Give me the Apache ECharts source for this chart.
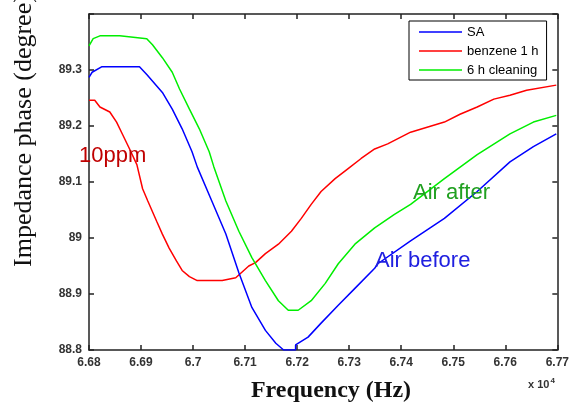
<!DOCTYPE html>
<html>
<head>
<meta charset="utf-8">
<script src="https://cdn.jsdelivr.net/npm/echarts@6/dist/echarts.min.js"></script>
<style>
  html, body { margin: 0; padding: 0; background: #fff; }
  #chart { width: 572px; height: 405px; }
</style>
</head>
<body>
<div id="chart"></div>
<script>
// Frequency in units of 10^4 Hz, impedance phase in degrees
const seriesNames = ['SA', 'benzene 1 h', '6 h cleaning'];

const saFreq = [6.6800, 6.6806, 6.6825, 6.6897, 6.6911, 6.6941, 6.6960, 6.6979, 6.6998, 6.7008,
  6.7036, 6.7063, 6.7088, 6.7113, 6.7139, 6.7159, 6.7174, 6.7197, 6.7197, 6.7221, 6.7246, 6.7279,
  6.7311, 6.7349, 6.7355, 6.7418, 6.7483, 6.7546, 6.7609, 6.7654, 6.7698];
const saPhase = [89.287, 89.296, 89.306, 89.306, 89.292, 89.260, 89.230, 89.195, 89.154, 89.127,
  89.066, 89.007, 88.938, 88.876, 88.835, 88.812, 88.800, 88.800, 88.809, 88.823, 88.848, 88.880,
  88.910, 88.946, 88.954, 88.995, 89.035, 89.083, 89.136, 89.163, 89.186];

const benzeneFreq = [6.6800, 6.6811, 6.6821, 6.6840, 6.6853, 6.6865, 6.6878, 6.6892, 6.6903, 6.6913,
  6.6930, 6.6941, 6.6954, 6.6968, 6.6979, 6.6993, 6.7008, 6.7056, 6.7082, 6.7107, 6.7120, 6.7139,
  6.7164, 6.7189, 6.7208, 6.7227, 6.7246, 6.7273, 6.7298, 6.7323, 6.7349, 6.7374, 6.7418, 6.7483,
  6.7513, 6.7546, 6.7578, 6.7609, 6.7641, 6.7698];
const benzenePhase = [89.246, 89.246, 89.234, 89.225, 89.207, 89.184, 89.159, 89.131, 89.088, 89.066,
  89.030, 89.007, 88.982, 88.959, 88.942, 88.931, 88.924, 88.924, 88.929, 88.950, 88.956, 88.972,
  88.989, 89.012, 89.035, 89.060, 89.083, 89.106, 89.124, 89.142, 89.159, 89.168, 89.189, 89.207,
  89.221, 89.234, 89.248, 89.255, 89.264, 89.273];

const cleaningFreq = [6.6800, 6.6808, 6.6821, 6.6859, 6.6911, 6.6922, 6.6941, 6.6960, 6.6974, 6.6993,
  6.7012, 6.7031, 6.7040, 6.7063, 6.7088, 6.7113, 6.7139, 6.7164, 6.7183, 6.7202, 6.7227, 6.7254,
  6.7279, 6.7311, 6.7349, 6.7387, 6.7418, 6.7483, 6.7546, 6.7609, 6.7654, 6.7698];
const cleaningPhase = [89.343, 89.356, 89.361, 89.361, 89.356, 89.345, 89.322, 89.296, 89.266, 89.230,
  89.195, 89.154, 89.127, 89.066, 89.012, 88.965, 88.924, 88.888, 88.871, 88.871, 88.888, 88.919,
  88.954, 88.989, 89.018, 89.042, 89.060, 89.106, 89.149, 89.186, 89.207, 89.219];

const xTickLabels = ['6.68', '6.69', '6.7', '6.71', '6.72', '6.73', '6.74', '6.75', '6.76', '6.77'];
const yTickLabels = ['88.8', '88.9', '89', '89.1', '89.2', '89.3'];

const pair = (xs, ys) => xs.map((x, i) => [x, ys[i]]);

const chart = echarts.init(document.getElementById('chart'));

const tickFont = { fontFamily: 'Arial, "Liberation Sans", sans-serif', fontSize: 12, fontWeight: 'bold', color: '#333' };
const axisLineStyle = { color: '#222', width: 1.5 };

const xLabel = v => {
  const s = String(+v.toFixed(2));
  return xTickLabels.includes(s) ? s : '';
};
const yLabel = v => {
  const s = String(+v.toFixed(1));
  return yTickLabels.includes(s) ? s : '';
};

chart.setOption({
  animation: false,
  backgroundColor: '#fff',
  grid: { left: 89, right: 11, top: 14, bottom: 55, containLabel: false },
  xAxis: [
    {
      type: 'value', min: 6.68, max: 6.77, interval: 0.01, position: 'bottom',
      axisLine: { show: true, lineStyle: axisLineStyle },
      axisTick: { show: true, inside: true, length: 5, lineStyle: axisLineStyle },
      axisLabel: Object.assign({ margin: 7, formatter: xLabel }, tickFont),
      splitLine: { show: false }
    },
    {
      type: 'value', min: 6.68, max: 6.77, interval: 0.01, position: 'top',
      axisLine: { show: true, onZero: false, lineStyle: axisLineStyle },
      axisTick: { show: true, inside: true, length: 5, lineStyle: axisLineStyle },
      axisLabel: { show: false },
      splitLine: { show: false }
    }
  ],
  yAxis: [
    {
      type: 'value', min: 88.8, max: 89.4, interval: 0.1, position: 'left',
      axisLine: { show: true, lineStyle: axisLineStyle },
      axisTick: { show: true, inside: true, length: 5, lineStyle: axisLineStyle },
      axisLabel: Object.assign({ margin: 7, formatter: yLabel }, tickFont),
      splitLine: { show: false }
    },
    {
      type: 'value', min: 88.8, max: 89.4, interval: 0.1, position: 'right',
      axisLine: { show: true, onZero: false, lineStyle: axisLineStyle },
      axisTick: { show: true, inside: true, length: 5, lineStyle: axisLineStyle },
      axisLabel: { show: false },
      splitLine: { show: false }
    }
  ],
  legend: {
    data: seriesNames,
    orient: 'vertical',
    left: 409, top: 21,
    backgroundColor: '#fff',
    borderColor: '#000', borderWidth: 1, borderRadius: 0,
    padding: [4, 8, 3, 10],
    icon: 'rect',
    itemGap: 5, itemWidth: 43, itemHeight: 1.5,
    textStyle: { fontFamily: 'Arial, "Liberation Sans", sans-serif', fontSize: 13, lineHeight: 14, color: '#000' }
  },
  series: [
    {
      name: seriesNames[0], type: 'line', xAxisIndex: 0, yAxisIndex: 0,
      data: pair(saFreq, saPhase), symbol: 'none',
      lineStyle: { color: '#0000ff', width: 1.5 }, itemStyle: { color: '#0000ff' }, z: 3
    },
    {
      name: seriesNames[1], type: 'line', xAxisIndex: 0, yAxisIndex: 0,
      data: pair(benzeneFreq, benzenePhase), symbol: 'none',
      lineStyle: { color: '#ff0000', width: 1.5 }, itemStyle: { color: '#ff0000' }, z: 2
    },
    {
      name: seriesNames[2], type: 'line', xAxisIndex: 0, yAxisIndex: 0,
      data: pair(cleaningFreq, cleaningPhase), symbol: 'none',
      lineStyle: { color: '#00ee00', width: 1.5 }, itemStyle: { color: '#00ee00' }, z: 2
    }
  ],
  graphic: [
    {
      type: 'text', x: 24, y: 267, rotation: Math.PI / 2,
      style: {
        text: 'Impedance phase (degree)',
        font: 'normal 26px "Liberation Serif", "Times New Roman", serif',
        fill: '#111', textAlign: 'left', textVerticalAlign: 'middle'
      }
    },
    {
      type: 'text', x: 331, y: 391,
      style: {
        text: 'Frequency (Hz)',
        font: 'bold 24px "Liberation Serif", "Times New Roman", serif',
        fill: '#111', textAlign: 'center', textVerticalAlign: 'middle'
      }
    },
    {
      type: 'text', x: 528, y: 385,
      style: {
        text: '{b|x 10}{s|4}',
        rich: {
          b: { font: 'bold 11px Arial, "Liberation Sans", sans-serif', fill: '#333' },
          s: { font: 'bold 8px Arial, "Liberation Sans", sans-serif', fill: '#333', padding: [0, 0, 8, 1] }
        },
        textVerticalAlign: 'middle'
      }
    },
    {
      type: 'text', x: 79, y: 156, z: 100,
      style: {
        text: '10ppm',
        font: '22px Arial, "Liberation Sans", sans-serif',
        fill: '#c00000', textVerticalAlign: 'middle'
      }
    },
    {
      type: 'text', x: 413, y: 193, z: 100,
      style: {
        text: 'Air after',
        font: '22px Arial, "Liberation Sans", sans-serif',
        fill: '#20a020', textVerticalAlign: 'middle'
      }
    },
    {
      type: 'text', x: 375, y: 261, z: 100,
      style: {
        text: 'Air before',
        font: '22px Arial, "Liberation Sans", sans-serif',
        fill: '#2020e0', textVerticalAlign: 'middle'
      }
    }
  ]
});
</script>
</body>
</html>
